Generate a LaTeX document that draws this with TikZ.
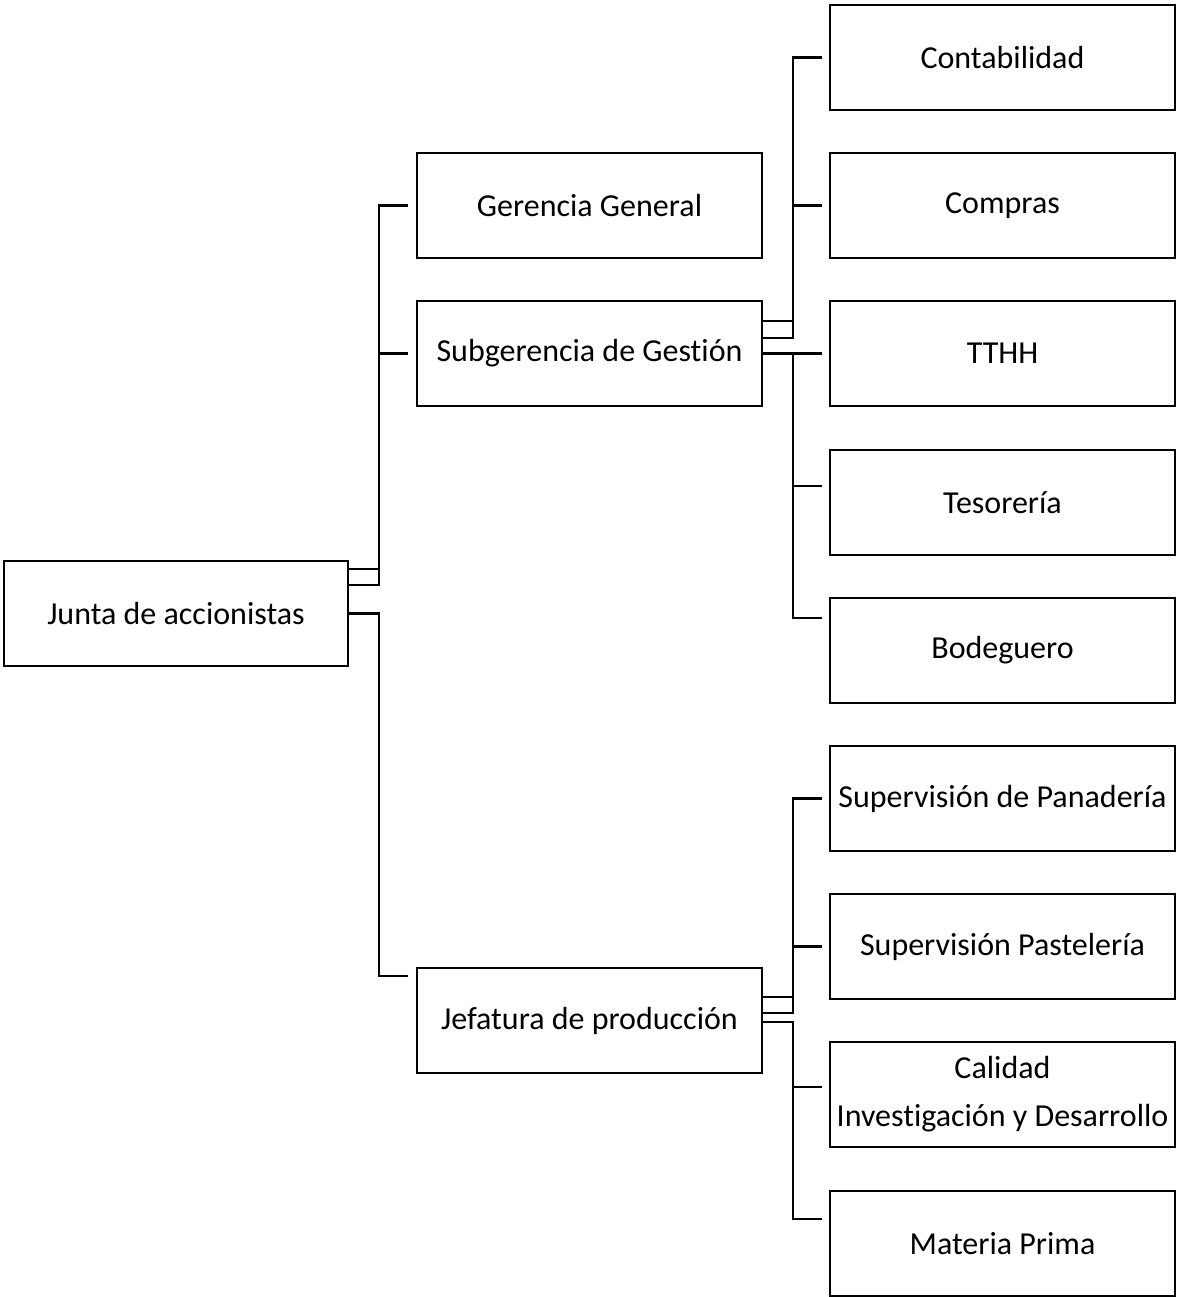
\documentclass[tikz,border=0pt]{standalone}
\usepackage{fontspec}
\setmainfont{Carlito}[Ligatures=NoCommon]
\begin{document}
\begin{tikzpicture}[x=1pt,y=-1pt,
  box/.style={draw, line width=2.4pt, minimum width=345pt, minimum height=105pt,
    inner sep=0pt, align=center, font=\fontsize{32}{48}\selectfont},
  link/.style={line width=2.4pt}]
\useasboundingbox (0,0) rectangle (1177,1297);

% top level
\node[box, minimum width=344pt] (ja) at (176,613.5) {Junta de accionistas};

% second level
\node[box] (gg) at (589.5,205.5) {Gerencia General};
\node[box] (sg) at (589.5,353.5) {Subgerencia de Gestión};
\node[box] (jp) at (589.5,1020.5) {Jefatura de producción};

% departments under Subgerencia
\node[box] (co) at (1002.5,57.5) {Contabilidad};
\node[box] (cp) at (1002.5,205.5) {Compras};
\node[box] (tt) at (1002.5,353.5) {TTHH};
\node[box] (te) at (1002.5,502.5) {Tesorería};
\node[box] (bo) at (1002.5,650.5) {Bodeguero};

% departments under Jefatura
\node[box] (pa) at (1002.5,798.5) {Supervisión de Panadería};
\node[box] (ps) at (1002.5,946.5) {Supervisión Pastelería};
\node[box] (ca) at (1002.5,1094.5) {Calidad\\Investigación y Desarrollo};
\node[box] (mp) at (1002.5,1243.5) {Materia Prima};

% elbow connectors from the board
\draw[link] ([yshift=44.5pt]ja.east) -- ++(30,0) |- ([xshift=-8pt]gg.west);
\draw[link] ([yshift=28.5pt]ja.east) -- ++(30,0) |- ([xshift=-8pt]sg.west);
\draw[link] (ja.east) -- ++(30,0) |- ([xshift=-8pt,yshift=44.5pt]jp.west);

% elbow connectors from Subgerencia
\draw[link] ([yshift=32.5pt]sg.east) -- ++(30,0) |- ([xshift=-7pt]co.west);
\draw[link] ([yshift=15.5pt]sg.east) -- ++(30,0) |- ([xshift=-7pt]cp.west);
\draw[link] (sg.east) -- ([xshift=-7pt]tt.west);
\draw[link] (sg.east) -- ++(30,0) |- ([xshift=-7pt,yshift=16.5pt]te.west);
\draw[link] (sg.east) -- ++(30,0) |- ([xshift=-7pt,yshift=32.5pt]bo.west);

% elbow connectors from Jefatura
\draw[link] ([yshift=23.5pt]jp.east) -- ++(30,0) |- ([xshift=-7pt]pa.west);
\draw[link] ([yshift=7.5pt]jp.east) -- ++(30,0) |- ([xshift=-7pt]ps.west);
\draw[link] ([yshift=-1.5pt]jp.east) -- ++(30,0) |- ([xshift=-7pt,yshift=7.5pt]ca.west);
\draw[link] ([yshift=-1.5pt]jp.east) -- ++(30,0) |- ([xshift=-7pt,yshift=24.5pt]mp.west);
\end{tikzpicture}
\end{document}
